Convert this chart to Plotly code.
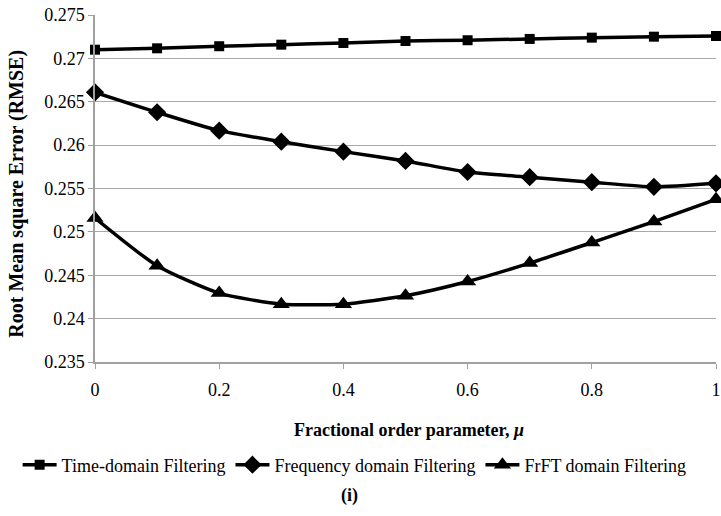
import plotly.graph_objects as go

mu = [0, 0.1, 0.2, 0.3, 0.4, 0.5, 0.6, 0.7, 0.8, 0.9, 1.0]
time_domain = [0.2710, 0.27116, 0.2714, 0.27158, 0.27177, 0.2720, 0.27209, 0.27224, 0.27239, 0.2725, 0.27258]
freq_domain = [0.26609, 0.26379, 0.26167, 0.2604, 0.25925, 0.25818, 0.2569, 0.2563, 0.25573, 0.25519, 0.2556]
frft_domain = [0.2516, 0.2461, 0.24294, 0.24167, 0.24167, 0.24263, 0.24428, 0.2464, 0.24877, 0.25119, 0.25375]

series_names = ["Time-domain Filtering", "Frequency domain Filtering", "FrFT domain Filtering"]
y_ticks = [0.235, 0.24, 0.245, 0.25, 0.255, 0.26, 0.265, 0.27, 0.275]
y_ticktext = ["0.235", "0.24", "0.245", "0.25", "0.255", "0.26", "0.265", "0.27", "0.275"]
x_ticks = [0, 0.2, 0.4, 0.6, 0.8, 1]
x_ticktext = ["0", "0.2", "0.4", "0.6", "0.8", "1"]

FONT = "Liberation Serif, serif"
PW = 626.0  # plot width in px
PH = 347.0  # plot height in px

fig = go.Figure()
for name, vals, sym, size in [
    (series_names[0], time_domain, "square", 10),
    (series_names[1], freq_domain, "diamond", 14),
    (series_names[2], frft_domain, "triangle-up", 15),
]:
    fig.add_trace(go.Scatter(
        x=mu, y=vals, name=name, mode="lines+markers",
        line=dict(color="black", width=3.5, shape="spline", smoothing=0.6),
        marker=dict(symbol=sym, size=size, color="black"),
        cliponaxis=False,
    ))

fig.update_layout(
    width=721, height=516,
    margin=dict(l=95, r=0, t=15, b=154),
    plot_bgcolor="white", paper_bgcolor="white",
    font=dict(family=FONT, size=18, color="black"),
    showlegend=True,
    legend=dict(orientation="h", xref="paper", yref="paper",
                x=(17 - 95) / PW, xanchor="left", y=(362 - 465) / PH, yanchor="middle",
                font=dict(size=18, family=FONT), itemwidth=34, tracegroupgap=0,
                bgcolor="rgba(0,0,0,0)"),
    xaxis=dict(range=[0, 1], tickvals=x_ticks, ticktext=x_ticktext,
               showgrid=False, zeroline=False, showline=True,
               linecolor="#a0a0a0", linewidth=1.5,
               ticks="outside", ticklen=5, tickcolor="#a0a0a0",
               ticklabeloverflow="allow",
               tickfont=dict(size=18, family=FONT), ticklabelstandoff=6),
    yaxis=dict(range=[0.235, 0.275], tickvals=y_ticks, ticktext=y_ticktext,
               showgrid=True, gridcolor="#a8a8a8", gridwidth=1.2,
               zeroline=False, showline=True, linecolor="#a0a0a0", linewidth=1.5,
               ticks="outside", ticklen=5, tickcolor="#a0a0a0",
               tickfont=dict(size=18, family=FONT)),
    annotations=[
        dict(text="<b>Fractional order parameter, <i>μ</i></b>", xref="paper", yref="paper",
             x=(412 - 95) / PW, y=(362 - 430) / PH, xanchor="center", yanchor="middle",
             showarrow=False, font=dict(size=18, family=FONT)),
        dict(text="<b>Root Mean square Error (RMSE)</b>", xref="paper", yref="paper",
             x=(16 - 95) / PW, y=(362 - 194) / PH, xanchor="center", yanchor="middle", textangle=-90,
             showarrow=False, font=dict(size=20, family=FONT)),
        dict(text="<b>(i)</b>", xref="paper", yref="paper",
             x=(352 - 95) / PW, y=(362 - 495) / PH, xanchor="center", yanchor="middle",
             showarrow=False, font=dict(size=18, family=FONT)),
    ],
)

fig.write_html("out.html")
